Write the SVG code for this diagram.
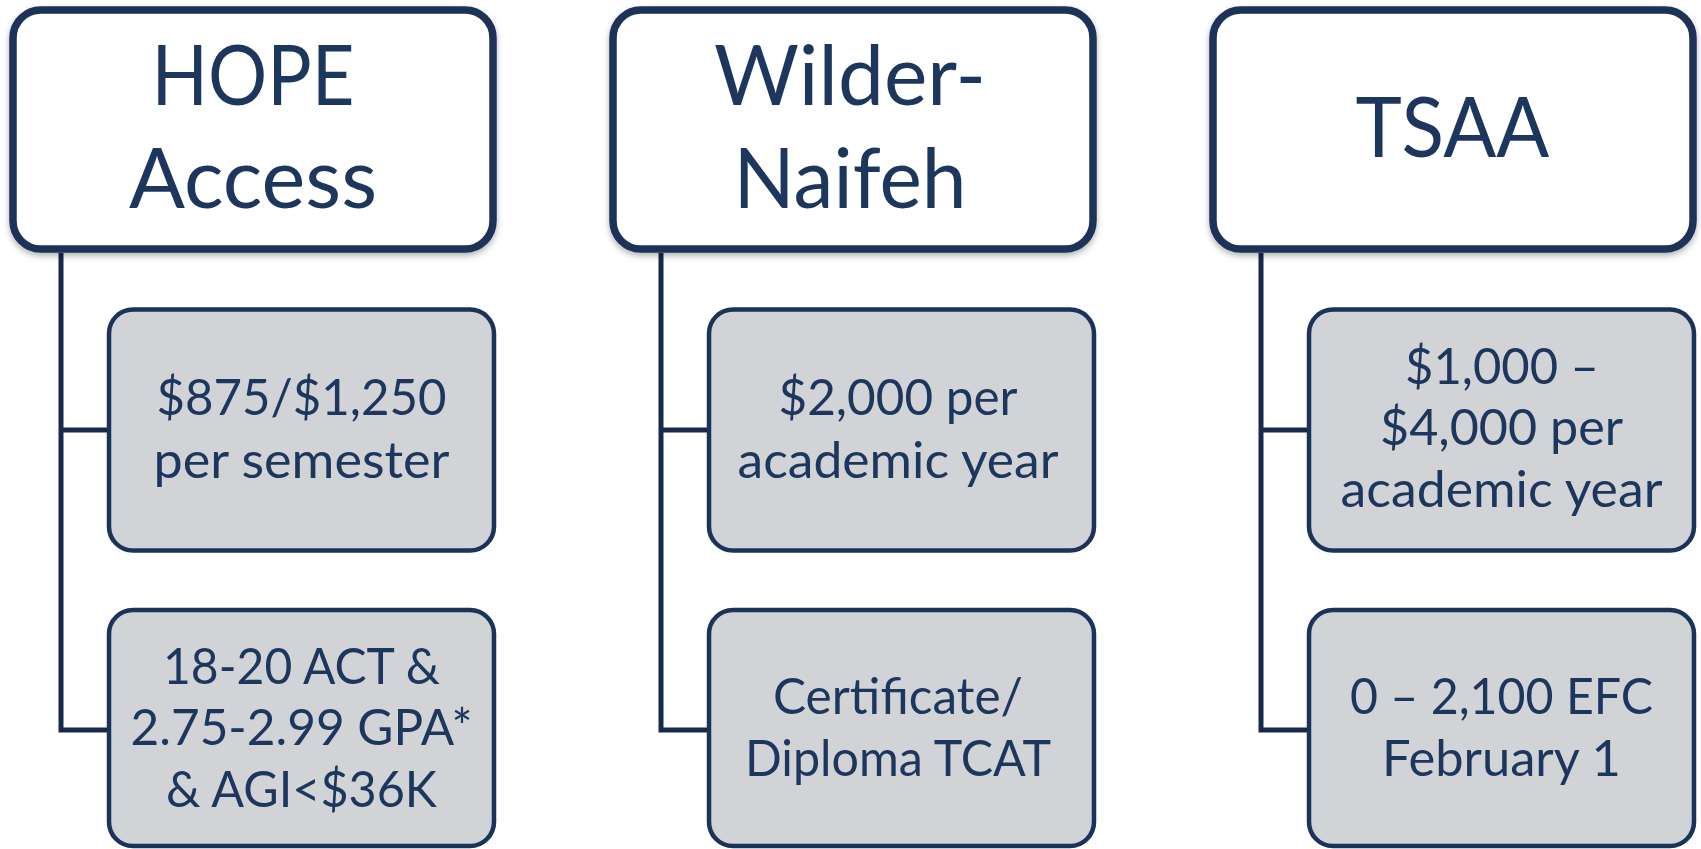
<svg xmlns="http://www.w3.org/2000/svg" width="1701" height="849" viewBox="0 0 1701 849">
  <style>
    .hdr { fill: #ffffff; stroke: #1b3259; stroke-width: 7.5; }
    .child { fill: #d1d3d7; stroke: #1b3259; stroke-width: 4.5; }
    .conn { fill: none; stroke: #172a4b; stroke-width: 5; stroke-linejoin: miter; }
    .ht { font-family: Lato, "Liberation Sans", sans-serif; font-size: 84px; fill: #1d365d; text-anchor: middle; }
    .ct { font-family: Lato, "Liberation Sans", sans-serif; font-size: 51px; fill: #1d365d; text-anchor: middle; }
  </style>
  <defs>
    <filter id="shadow" x="-10%" y="-10%" width="120%" height="130%">
      <feDropShadow dx="0" dy="3" stdDeviation="3" flood-color="#000000" flood-opacity="0.3"/>
    </filter>
  </defs>
  <rect width="1701" height="849" fill="#ffffff"/>

  <g id="connectors">
    <path class="conn" d="M61 253 V730 H109 M61 430 H109"/>
    <path class="conn" d="M661 253 V730 H709 M661 430 H709"/>
    <path class="conn" d="M1261 253 V730 H1309 M1261 430 H1309"/>
  </g>

  <g id="hope">
    <rect class="hdr" x="13" y="10" width="480" height="239" rx="28" filter="url(#shadow)"/>
    <text class="ht" x="253" y="105" textLength="203" lengthAdjust="spacingAndGlyphs">HOPE</text>
    <text class="ht" x="253" y="208" textLength="248" lengthAdjust="spacingAndGlyphs">Access</text>
  </g>
  <g id="hope-amount">
    <rect class="child" x="109" y="309.5" width="385" height="241" rx="24"/>
    <text class="ct" x="301.5" y="415" textLength="290" lengthAdjust="spacingAndGlyphs">$875/$1,250</text>
    <text class="ct" x="301.5" y="478" textLength="296" lengthAdjust="spacingAndGlyphs">per semester</text>
  </g>
  <g id="hope-eligibility">
    <rect class="child" x="109" y="610" width="385" height="236" rx="24"/>
    <text class="ct" x="301.5" y="683.5" textLength="277" lengthAdjust="spacingAndGlyphs">18-20 ACT &amp;</text>
    <text class="ct" x="301.5" y="745" textLength="342" lengthAdjust="spacingAndGlyphs">2.75-2.99 GPA*</text>
    <text class="ct" x="301.5" y="807" textLength="271" lengthAdjust="spacingAndGlyphs">&amp; AGI&lt;$36K</text>
  </g>

  <g id="wilder">
    <rect class="hdr" x="613" y="10" width="480" height="239" rx="28" filter="url(#shadow)"/>
    <text class="ht" x="850" y="105" textLength="272" lengthAdjust="spacingAndGlyphs">Wilder-</text>
    <text class="ht" x="850" y="208" textLength="233" lengthAdjust="spacingAndGlyphs">Naifeh</text>
  </g>
  <g id="wilder-amount">
    <rect class="child" x="709" y="309.5" width="385" height="241" rx="24"/>
    <text class="ct" x="898" y="415" textLength="239" lengthAdjust="spacingAndGlyphs">$2,000 per</text>
    <text class="ct" x="898" y="478" textLength="321" lengthAdjust="spacingAndGlyphs">academic year</text>
  </g>
  <g id="wilder-eligibility">
    <rect class="child" x="709" y="610" width="385" height="236" rx="24"/>
    <text class="ct" x="898" y="714" textLength="250" lengthAdjust="spacingAndGlyphs">Certificate/</text>
    <text class="ct" x="898" y="776" textLength="306" lengthAdjust="spacingAndGlyphs">Diploma TCAT</text>
  </g>

  <g id="tsaa">
    <rect class="hdr" x="1213" y="10" width="480" height="239" rx="28" filter="url(#shadow)"/>
    <text class="ht" x="1452.5" y="157" textLength="194" lengthAdjust="spacingAndGlyphs">TSAA</text>
  </g>
  <g id="tsaa-amount">
    <rect class="child" x="1309" y="309.5" width="385" height="241" rx="24"/>
    <text class="ct" x="1502" y="383.5" textLength="194" lengthAdjust="spacingAndGlyphs">$1,000 –</text>
    <text class="ct" x="1501.5" y="445" textLength="243" lengthAdjust="spacingAndGlyphs">$4,000 per</text>
    <text class="ct" x="1501.5" y="507" textLength="322" lengthAdjust="spacingAndGlyphs">academic year</text>
  </g>
  <g id="tsaa-eligibility">
    <rect class="child" x="1309" y="610" width="385" height="236" rx="24"/>
    <text class="ct" x="1501.5" y="714" textLength="303" lengthAdjust="spacingAndGlyphs">0 – 2,100 EFC</text>
    <text class="ct" x="1501.5" y="776" textLength="239" lengthAdjust="spacingAndGlyphs">February 1</text>
  </g>
</svg>
